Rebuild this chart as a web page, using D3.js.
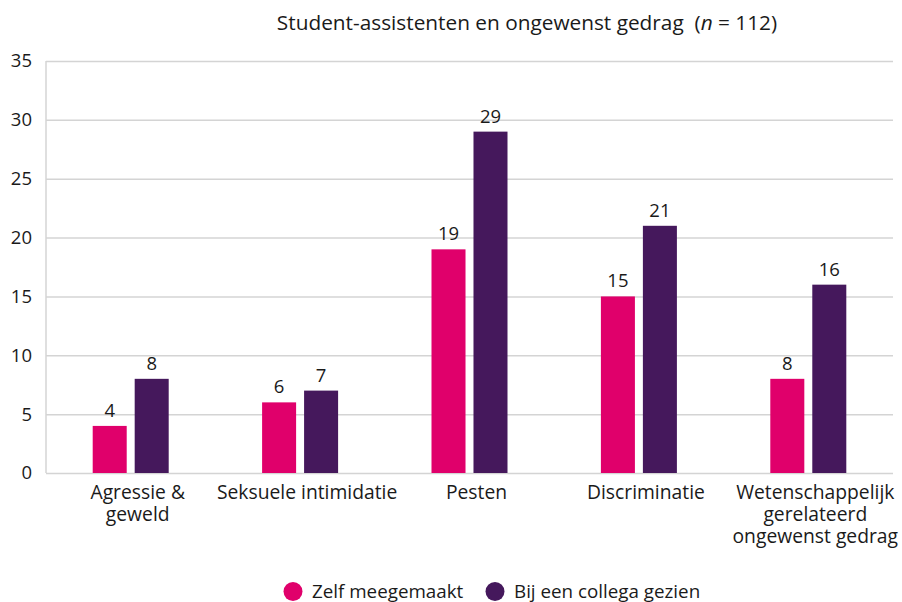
<!DOCTYPE html>
<html>
<head>
<meta charset="utf-8">
<script src="https://cdn.jsdelivr.net/npm/d3@7"></script>
<style>
  body { margin: 0; background: #fff; }
  svg { display: block; font-family: "Open Sans", sans-serif; }
</style>
</head>
<body>
<svg id="chart"></svg>
<script>
const categories = [
    ["Agressie &", "geweld"],
    ["Seksuele intimidatie"],
    ["Pesten"],
    ["Discriminatie"],
    ["Wetenschappelijk", "gerelateerd", "ongewenst gedrag"]
];
const seriesNames = ["Zelf meegemaakt", "Bij een collega gezien"];
const zelf = [4, 6, 19, 15, 8];
const collega = [8, 7, 29, 21, 16];
const yTicks = [0, 5, 10, 15, 20, 25, 30, 35];
const colors = ["#e0006b", "#45185c"];

const width = 902, height = 602;
const margin = { top: 61, right: 9, bottom: 129, left: 46 };
const innerW = width - margin.left - margin.right;
const innerH = height - margin.top - margin.bottom;

const svg = d3.select('#chart')
    .attr('width', width)
    .attr('height', height);

const chart = svg.append('g')
    .attr('transform', `translate(${margin.left},${margin.top})`);

const x0 = d3.scaleBand().domain(d3.range(categories.length)).range([0, innerW]);
const x1 = d3.scaleBand().domain([0, 1]).range([x0.bandwidth() / 2 - 38, x0.bandwidth() / 2 + 38]).paddingInner(0.19);
const y = d3.scaleLinear().domain([0, 35]).range([innerH, 0]);

// gridlines
chart.append('g')
    .call(d3.axisLeft(y).tickValues(yTicks).tickSize(-innerW).tickFormat(''))
    .call(g => g.select('.domain').remove())
    .call(g => g.selectAll('line').attr('stroke', '#d4d4d4').attr('stroke-width', 1.5));

// y axis line
chart.append('line')
    .attr('x1', 0).attr('x2', 0).attr('y1', 0).attr('y2', innerH)
    .attr('stroke', '#d4d4d4').attr('stroke-width', 1.5);

// y labels
chart.append('g')
    .call(d3.axisLeft(y).tickValues(yTicks).tickSize(0).tickPadding(14))
    .call(g => g.select('.domain').remove())
    .call(g => g.selectAll('text')
        .attr('font-size', 18.5).attr('fill', '#1a1a1a')
        .attr('font-family', '"Open Sans", sans-serif'));

const data = categories.map((c, i) => ({ i, values: [zelf[i], collega[i]] }));

const groups = chart.selectAll('.grp')
    .data(data)
    .enter().append('g')
    .attr('class', 'grp')
    .attr('transform', d => `translate(${x0(d.i)},0)`);

groups.selectAll('rect')
    .data(d => d.values.map((v, k) => ({ k, v })))
    .enter().append('rect')
    .attr('x', d => x1(d.k))
    .attr('width', x1.bandwidth())
    .attr('y', d => y(d.v))
    .attr('height', d => innerH - y(d.v))
    .attr('fill', d => colors[d.k]);

groups.selectAll('.val')
    .data(d => d.values.map((v, k) => ({ k, v })))
    .enter().append('text')
    .attr('class', 'val')
    .attr('x', d => x1(d.k) + x1.bandwidth() / 2)
    .attr('y', d => y(d.v) - 9)
    .attr('text-anchor', 'middle')
    .attr('font-size', 18.5)
    .attr('fill', '#1a1a1a')
    .text(d => d.v);

// category labels (one text per line, slightly right of band centre as in the original)
categories.forEach((lines, i) => {
    lines.forEach((line, j) => {
        chart.append('text')
            .attr('class', 'cat')
            .attr('x', x0(i) + x0.bandwidth() / 2 + 7)
            .attr('y', innerH + 26 + j * 22)
            .attr('text-anchor', 'middle')
            .attr('font-size', 19.3)
            .attr('fill', '#1a1a1a')
            .text(line);
    });
});

// title
const title = svg.append('text')
    .attr('x', 527)
    .attr('y', 30)
    .attr('text-anchor', 'middle')
    .attr('font-size', 20.8)
    .attr('fill', '#1a1a1a');
title.append('tspan').text('Student-assistenten en ongewenst gedrag\u00a0\u00a0(');
title.append('tspan').attr('font-style', 'italic').text('n');
title.append('tspan').text(' = 112)');

// legend
const legend = svg.append('g');
const legendX = [293, 495];
seriesNames.forEach((name, k) => {
    legend.append('circle')
        .attr('cx', legendX[k]).attr('cy', 591.5).attr('r', 9.5)
        .attr('fill', colors[k]);
    legend.append('text')
        .attr('x', legendX[k] + 19).attr('y', 597.5)
        .attr('font-size', 18.8).attr('fill', '#1a1a1a')
        .text(name);
});
</script>
</body>
</html>
